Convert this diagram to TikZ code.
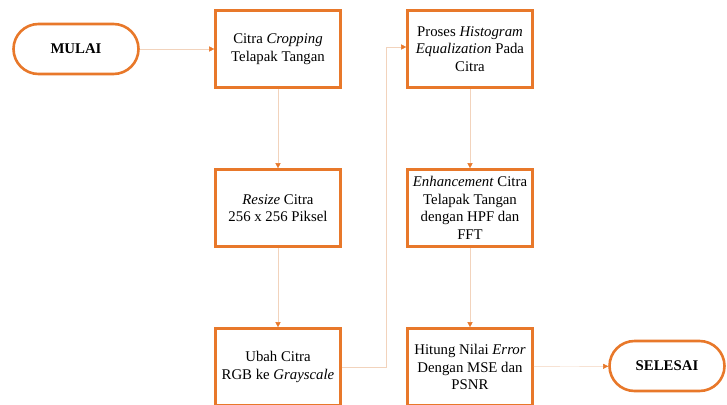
\documentclass[tikz,border=0pt]{standalone}
\usepackage{fontspec}
\setmainfont{Liberation Serif}
\usetikzlibrary{arrows.meta}
\definecolor{boxorange}{HTML}{E8782A}
\definecolor{lineorange}{HTML}{F2D3BC}

\begin{document}
\begin{tikzpicture}[x=1pt,y=-1pt,draw=lineorange,-{Triangle[length=5pt,width=5pt,color=boxorange]}]
		\tikzstyle{proses}=[rectangle,draw=boxorange,line width=2.6pt,minimum width=125pt,minimum height=77pt,inner sep=2pt,align=center,font=\fontsize{14.8}{17.5}\selectfont]
		\tikzstyle{terminal}=[proses,rounded corners=25pt,minimum height=50pt,font=\fontsize{14.8}{17}\selectfont\bfseries]
		\clip (0,0) rectangle (727,404);
		
		\node[terminal, minimum width=125pt] (mulai) at (76,49) {MULAI};
		\node[proses] (crop) at (278,49) {Citra \textit{Cropping}\\Telapak Tangan};
		\node[proses] (resize) at (278,208) {\textit{Resize} Citra\\256 x 256 Piksel};
		\node[proses] (gray) at (278,367) {Ubah Citra\\RGB ke \textit{Grayscale}};
		\node[proses] (hist) at (470,49) {Proses \textit{Histogram}\\\textit{Equalization} Pada\\Citra};
		\node[proses] (enh) at (470,208) {\textit{Enhancement} Citra\\Telapak Tangan\\dengan HPF dan\\FFT};
		\node[proses] (hitung) at (470,367) {Hitung Nilai \textit{Error}\\Dengan MSE dan\\PSNR};
		\node[terminal, minimum width=115pt] (selesai) at (667,366) {SELESAI};
		\coordinate (belok) at (386,367);
		
		\draw (mulai) -- (crop);
		\draw (crop) -- (resize);
		\draw (resize) -- (gray);
		\draw (gray.east) -- (belok) |- ([yshift=2pt]hist.west);
		\draw (hist) -- (enh);
		\draw (enh) -- (hitung);
		\draw (hitung) -- (selesai);
		\end{tikzpicture}
\end{document}
